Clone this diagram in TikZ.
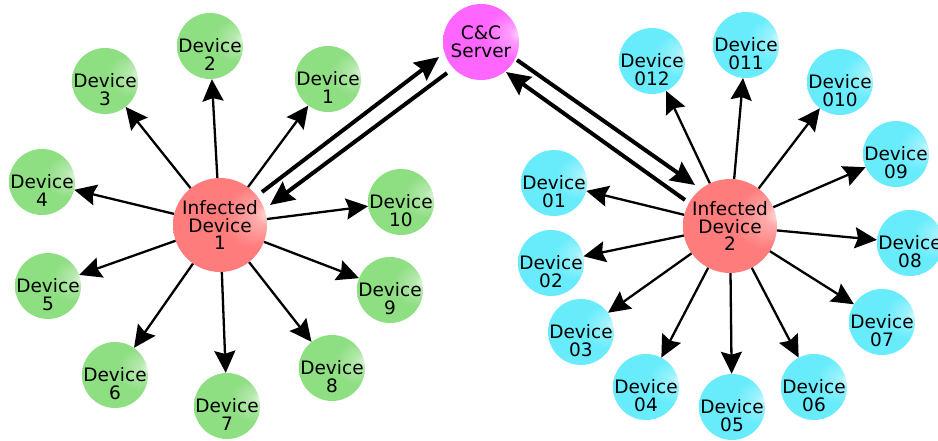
\documentclass[tikz,border=0pt]{standalone}
\usepackage{fontspec}
\setmainfont{DejaVu Sans}
\usetikzlibrary{arrows.meta}
\definecolor{gM}{RGB}{142,222,130}
\definecolor{gE}{RGB}{96,190,88}
\definecolor{rM}{RGB}{255,124,124}
\definecolor{rE}{RGB}{230,84,84}
\definecolor{mM}{RGB}{255,102,255}
\definecolor{mE}{RGB}{226,52,226}
\definecolor{cM}{RGB}{104,236,252}
\definecolor{cE}{RGB}{74,222,242}
\pgfdeclareradialshading{ballG}{\pgfpoint{26bp}{6bp}}{color(0bp)=(gM!25!white); color(5bp)=(gM!65!white); color(16bp)=(gM); color(43bp)=(gM); color(50bp)=(gE)}
\pgfdeclareradialshading{ballR}{\pgfpoint{26bp}{6bp}}{color(0bp)=(rM!25!white); color(5bp)=(rM!65!white); color(16bp)=(rM); color(43bp)=(rM); color(50bp)=(rE)}
\pgfdeclareradialshading{ballM}{\pgfpoint{26bp}{6bp}}{color(0bp)=(mM!25!white); color(5bp)=(mM!65!white); color(16bp)=(mM); color(43bp)=(mM); color(50bp)=(mE)}
\pgfdeclareradialshading{ballC}{\pgfpoint{26bp}{6bp}}{color(0bp)=(cM!25!white); color(5bp)=(cM!65!white); color(16bp)=(cM); color(43bp)=(cM); color(50bp)=(cE)}
\begin{document}
\begin{tikzpicture}[x=1pt,y=-1pt,
  txt/.style={font=\fontsize{18.5}{17.5}\selectfont, align=center, text=black},
  lbl/.style={txt, inner sep=0pt, yshift=-8.5pt},
  dev/.style={circle, inner sep=0pt, minimum size=66pt, shade},
  gdev/.style={dev, shading=ballG},
  cdev/.style={dev, shading=ballC},
  inf/.style={circle, inner sep=0pt, minimum size=94pt, shade, shading=ballR, txt},
  ccs/.style={circle, inner sep=0pt, minimum size=76pt, shade, shading=ballM, txt},
  spoke/.style={line width=2.3pt, -{Stealth[length=22pt,width=21pt,inset=3pt]}},
  ccarrow/.style={line width=4pt, -{Stealth[length=24pt,width=22pt,inset=3pt]}}]
\useasboundingbox (0,0) rectangle (938,441);

% central nodes
\node[ccs] (cc) at (481,42) {C\&C\\Server};
\node[inf] (inf1) at (220,225) {Infected\\Device\\1};
\node[inf] (inf2) at (730,226) {Infected\\Device\\2};

% green devices
\node[gdev, label={[lbl]center:Device\\1}] (g1) at (328,79) {};
\node[gdev, label={[lbl]center:Device\\2}] (g2) at (210,46) {};
\node[gdev, label={[lbl]center:Device\\3}] (g3) at (105,81) {};
\node[gdev, label={[lbl]center:Device\\4}] (g4) at (42,182) {};
\node[gdev, label={[lbl]center:Device\\5}] (g5) at (48,286) {};
\node[gdev, label={[lbl]center:Device\\6}] (g6) at (115,375) {};
\node[gdev, label={[lbl]center:Device\\7}] (g7) at (227,406) {};
\node[gdev, label={[lbl]center:Device\\8}] (g8) at (332,368) {};
\node[gdev, label={[lbl]center:Device\\9}] (g9) at (390,290) {};
\node[gdev, label={[lbl]center:Device\\10}] (g10) at (401,202) {};

% cyan devices
\node[cdev, label={[lbl]center:Device\\01}] (c1) at (554,183) {};
\node[cdev, label={[lbl]center:Device\\02}] (c2) at (551,263) {};
\node[cdev, label={[lbl]center:Device\\03}] (c3) at (581,332) {};
\node[cdev, label={[lbl]center:Device\\04}] (c4) at (646,387) {};
\node[cdev, label={[lbl]center:Device\\05}] (c5) at (732,407) {};
\node[cdev, label={[lbl]center:Device\\06}] (c6) at (814,387) {};
\node[cdev, label={[lbl]center:Device\\07}] (c7) at (882,322) {};
\node[cdev, label={[lbl]center:Device\\08}] (c8) at (910,243) {};
\node[cdev, label={[lbl]center:Device\\09}] (c9) at (896,154) {};
\node[cdev, label={[lbl]center:Device\\010}] (c10) at (840,82) {};
\node[cdev, label={[lbl]center:Device\\011}] (c11) at (746,45) {};
\node[cdev, label={[lbl]center:Device\\012}] (c12) at (652,61) {};

% spokes
\foreach \d in {g1,g2,g3,g4,g5,g6,g7,g8,g9,g10}
  \draw[spoke] (inf1) -- (\d);
\foreach \d in {c1,c2,c3,c4,c5,c6,c7,c8,c9,c10,c11,c12}
  \draw[spoke] (inf2) -- (\d);

% C&C links
\draw[ccarrow] ([shift={(42,-33)}]inf1.center) -- ([shift={(-42,15)}]cc.center);
\draw[ccarrow] ([shift={(-34,31)}]cc.center) -- ([shift={(50,-20)}]inf1.center);
\draw[ccarrow] ([shift={(36,18)}]cc.center) -- ([shift={(-35,-41)}]inf2.center);
\draw[ccarrow] ([shift={(-45,-26)}]inf2.center) -- ([shift={(25,30)}]cc.center);
\end{tikzpicture}
\end{document}
